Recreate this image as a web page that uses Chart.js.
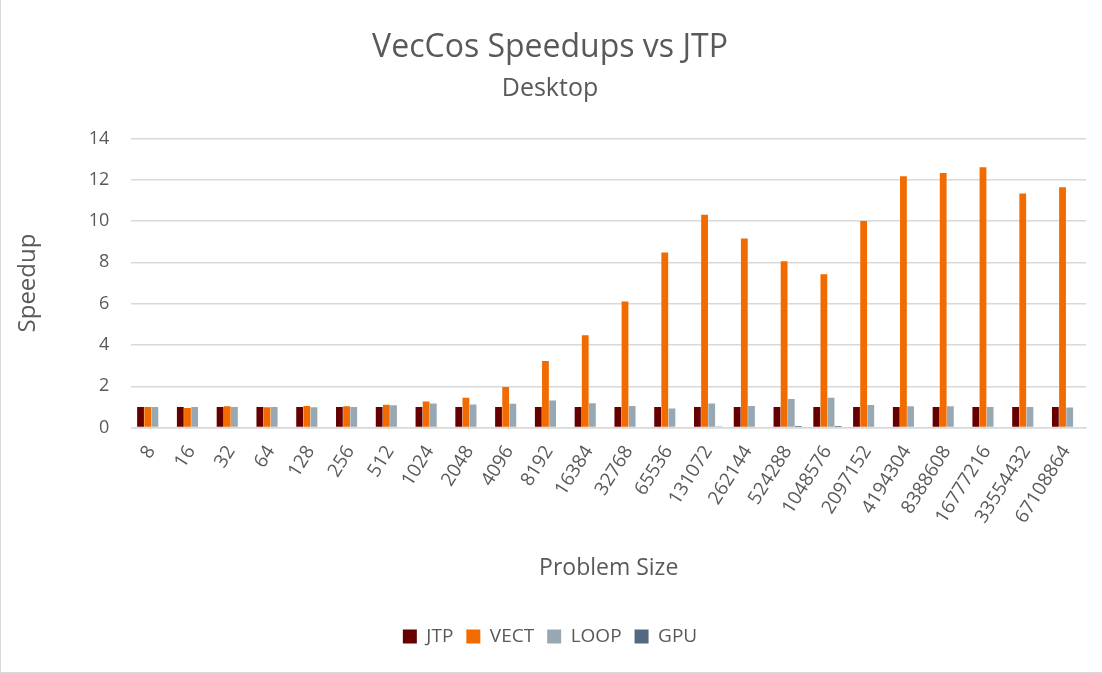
<!DOCTYPE html>
<html>
<head>
<meta charset="utf-8">
<script src="https://cdn.jsdelivr.net/npm/chart.js@4/dist/chart.umd.min.js"></script>
<style>
html,body{margin:0;padding:0;background:#fff;}
#wrap{position:absolute;left:0;top:0;width:1102px;height:673px;box-sizing:border-box;border-left:1px solid #d9d9d9;border-bottom:1px solid #d9d9d9;}
canvas{display:block;}
</style>
</head>
<body>
<div id="wrap"><canvas id="c" width="1101" height="672"></canvas></div>
<script>
const categories = ["8","16","32","64","128","256","512","1024","2048","4096","8192","16384","32768","65536","131072","262144","524288","1048576","2097152","4194304","8388608","16777216","33554432","67108864"];
const jtp  = [1,1,1,1,1,1,1,1,1,1,1,1,1,1,1,1,1,1,1,1,1,1,1,1];
const vect = [1.0,0.95,1.03,0.98,1.05,1.03,1.11,1.27,1.44,1.96,3.22,4.47,6.1,8.48,10.3,9.15,8.05,7.42,10.0,12.17,12.33,12.6,11.33,11.64];
const loop = [1.0,1.0,1.0,1.0,0.98,1.0,1.08,1.17,1.12,1.15,1.31,1.18,1.05,0.92,1.17,1.05,1.38,1.44,1.09,1.04,1.04,1.0,1.0,0.97];
const gpu  = [0,0,0,0,0,0,0,0,0,0,0,0,0,0,0.05,0.04,0.08,0.08,0,0,0,0,0,0];
const yTicks = [0,2,4,6,8,10,12,14];

const FONT = "'Open Sans', 'Liberation Sans', sans-serif";
const TXT = '#595959';
Chart.defaults.font.family = FONT;
Chart.defaults.color = TXT;

new Chart(document.getElementById('c'), {
  type: 'bar',
  data: {
    labels: categories,
    datasets: [
      {label:'JTP', data: jtp, backgroundColor:'#660000'},
      {label:'VECT', data: vect, backgroundColor:'#F26B00'},
      {label:'LOOP', data: loop, backgroundColor:'#97A8B3'},
      {label:'GPU', data: gpu, backgroundColor:'#52697F'}
    ]
  },
  options: {
    responsive:false,
    animation:false,
    datasets:{bar:{categoryPercentage:0.72, barPercentage:0.95}},
    layout:{padding:{left:13, right:16, top:25, bottom:16}},
    plugins:{
      title:{display:true, text:'VecCos Speedups vs JTP', font:{size:32, weight:'normal'}, color:TXT, padding:{top:4,bottom:6}},
      subtitle:{display:true, text:'Desktop', font:{size:25}, color:TXT, padding:{top:0,bottom:35}},
      legend:{position:'bottom', labels:{boxWidth:14, boxHeight:14, font:{size:19}, color:TXT, padding:13}},
      tooltip:{enabled:false}
    },
    scales:{
      x:{
        grid:{display:false},
        border:{display:true, color:'#d9d9d9', width:1.5},
        ticks:{font:{size:19}, color:TXT, maxRotation:58, minRotation:58, autoSkip:false, padding:6},
        title:{display:true, text:'Problem Size', font:{size:23}, color:TXT, padding:{top:21, bottom:32}}
      },
      y:{
        min:0, max:14,
        afterBuildTicks: (ax)=>{ ax.ticks = yTicks.map(v=>({value:v})); },
        grid:{color:'#d9d9d9', lineWidth:1.5, drawTicks:false},
        border:{display:false},
        ticks:{font:{size:18}, color:TXT, padding:22},
        title:{display:true, text:'Speedup', font:{size:24}, color:TXT, padding:{top:0, bottom:24}}
      }
    }
  }
});
</script>
</body>
</html>
